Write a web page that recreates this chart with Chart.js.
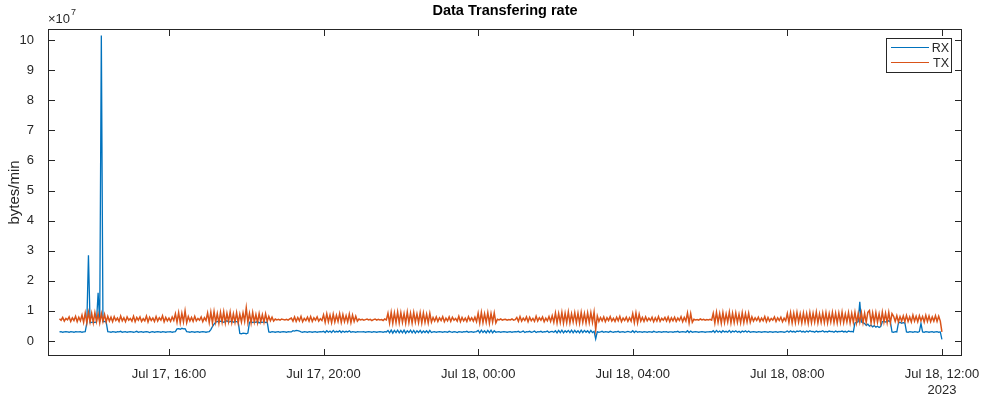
<!DOCTYPE html>
<html>
<head>
<meta charset="utf-8">
<script src="https://cdn.jsdelivr.net/npm/chart.js@4.4.0/dist/chart.umd.min.js"></script>
<style>
  html, body { margin: 0; padding: 0; background: #fff; }
</style>
</head>
<body>
<canvas id="rateChart" width="981" height="396"></canvas>
<script>
// one sample every 2.5 min, first at Jul 17 13:10 (hours counted from Jul 17 00:00)
const startHour = 13 + 10 / 60;
const stepHours = 2.5 / 60;

// bytes/min, in millions - one row per hour
const rxMB = [
  3.0, 3.1, 2.9, 3.0, 3.1, 3.0, 2.9, 3.1, 3.0, 2.9, 3.1, 3.0, 3.0, 3.1, 2.9, 3.0, 3.1, 6.0, 28.5, 6.1, // 13:10
  6.2, 6.3, 6.1, 6.4, 16.0, 6.3, 101.5, 6.4, 6.5, 6.3, 3.1, 3.0, 2.9, 3.1, 3.0, 2.9, 3.1, 3.0, 3.2, 2.9, 3.0, 3.1, 2.9, 3.0, // 14
  3.1, 3.0, 2.9, 3.0, 3.2, 2.9, 3.0, 3.1, 2.9, 3.0, 3.1, 3.0, 2.8, 3.0, 3.1, 2.9, 3.0, 3.1, 3.0, 2.9, 3.1, 3.0, 2.9, 3.0, // 15
  3.0, 3.1, 2.9, 3.0, 3.1, 4.0, 4.1, 3.9, 4.2, 4.0, 4.1, 3.1, 3.0, 2.9, 3.1, 3.0, 2.9, 3.0, 3.1, 2.9, 3.0, 3.1, 3.0, 2.9, // 16
  3.0, 3.1, 3.8, 4.8, 5.6, 6.2, 6.5, 6.3, 6.6, 6.4, 6.2, 6.5, 6.7, 6.3, 6.4, 6.6, 6.2, 6.5, 6.4, 6.3, 2.5, 2.4, 2.6, 2.5, // 17
  2.4, 2.6, 6.2, 6.4, 6.1, 6.3, 6.2, 6.5, 6.0, 6.3, 6.2, 6.4, 6.1, 6.3, 3.0, 2.9, 3.1, 3.0, 2.9, 3.0, 3.1, 2.9, 3.0, 3.1, // 18
  3.0, 2.9, 3.1, 3.0, 3.0, 3.4, 3.3, 3.5, 3.4, 3.3, 3.0, 2.9, 3.1, 3.0, 2.9, 3.1, 3.0, 2.9, 3.0, 3.1, 2.9, 3.0, 3.1, 3.0, // 19
  3.2, 2.8, 3.4, 2.9, 3.3, 2.8, 3.5, 2.9, 3.2, 3.0, 3.4, 2.8, 3.3, 2.9, 3.2, 3.0, 3.4, 2.9, 3.1, 3.0, 2.9, 3.1, 3.0, 3.0, // 20
  3.0, 3.1, 2.9, 3.0, 3.1, 3.0, 2.9, 3.1, 3.0, 2.9, 3.0, 3.1, 3.0, 2.9, 3.1, 3.0, 3.5, 2.7, 3.6, 2.6, 3.5, 2.8, 3.6, 2.7, // 21
  3.5, 2.7, 3.6, 2.6, 3.4, 2.8, 3.6, 2.7, 3.5, 2.6, 3.4, 2.8, 3.5, 2.7, 3.3, 2.8, 3.4, 2.7, 3.5, 2.8, 3.0, 3.1, 2.9, 3.0, // 22
  3.1, 3.0, 2.9, 3.1, 3.0, 2.9, 3.2, 3.0, 2.9, 3.1, 3.0, 2.8, 3.1, 3.0, 2.9, 3.1, 3.0, 3.2, 2.9, 3.0, 3.1, 2.9, 3.0, 3.1, // 23
  3.5, 2.7, 3.6, 2.8, 3.4, 2.7, 3.5, 2.8, 3.6, 2.7, 3.4, 2.9, 3.0, 3.1, 2.9, 3.0, 3.1, 3.0, 2.9, 3.0, 3.1, 2.9, 3.0, 3.1, // 00
  3.0, 3.2, 2.9, 3.0, 3.3, 2.8, 3.1, 3.0, 3.2, 2.9, 3.0, 3.3, 2.8, 3.1, 3.0, 3.2, 2.9, 3.1, 3.0, 3.3, 2.8, 3.1, 3.2, 2.9, // 01
  3.4, 2.7, 3.5, 2.8, 3.6, 2.7, 3.4, 2.9, 3.5, 2.8, 3.6, 2.7, 3.5, 2.8, 3.4, 2.7, 3.6, 2.8, 3.5, 2.9, 3.4, 2.7, 3.5, 2.8, // 02
  3.2, 0.7, 3.1, 2.9, 3.0, 3.2, 2.9, 3.1, 3.0, 2.9, 3.2, 3.0, 2.9, 3.1, 3.0, 3.2, 2.9, 3.0, 3.1, 2.9, 3.0, 3.2, 3.0, 2.9, // 03
  3.4, 2.8, 3.3, 2.9, 3.1, 3.0, 2.9, 3.1, 3.0, 2.9, 3.1, 3.0, 2.9, 3.2, 3.0, 2.9, 3.1, 3.0, 2.9, 3.1, 3.0, 3.1, 2.9, 3.0, // 04
  3.0, 2.9, 3.1, 3.0, 3.2, 2.9, 3.0, 3.1, 3.0, 2.9, 3.4, 2.8, 3.3, 2.9, 3.0, 3.1, 3.0, 2.9, 3.0, 3.1, 3.0, 2.9, 3.0, 3.0, // 05
  3.1, 3.0, 3.4, 2.8, 3.5, 2.9, 3.3, 2.8, 3.4, 3.0, 3.2, 2.9, 3.5, 2.8, 3.3, 3.0, 3.4, 2.9, 3.2, 2.8, 3.3, 3.0, 3.4, 2.9, // 06
  3.3, 2.9, 3.0, 3.1, 3.0, 2.9, 3.1, 3.0, 2.9, 3.0, 3.1, 3.0, 2.9, 3.1, 3.0, 2.9, 3.0, 3.1, 2.9, 3.0, 3.1, 3.0, 2.9, 3.0, // 07
  3.3, 2.9, 3.4, 3.0, 3.2, 2.9, 3.3, 3.1, 3.4, 3.0, 3.2, 2.9, 3.3, 3.0, 3.4, 3.1, 3.2, 2.9, 3.3, 3.0, 3.2, 3.1, 3.4, 3.0, // 08
  3.2, 3.0, 3.3, 3.1, 3.2, 2.9, 3.3, 3.0, 3.2, 3.1, 3.3, 3.0, 3.2, 2.9, 3.3, 3.1, 3.2, 3.0, 6.0, 6.2, 6.4, 13.0, 6.3, 6.1, // 09
  5.8, 5.2, 5.6, 4.9, 5.3, 4.7, 5.1, 4.6, 4.9, 4.5, 4.8, 6.4, 6.6, 6.3, 6.5, 6.7, 6.4, 3.0, 2.9, 3.1, 3.0, 6.0, 6.2, 5.9, // 10
  6.1, 6.0, 3.0, 2.9, 3.1, 3.0, 2.9, 3.1, 3.0, 2.9, 3.1, 5.8, 3.0, 2.9, 3.1, 3.0, 2.9, 3.0, 3.1, 2.9, 3.0, 3.1, 2.9, 3.0, // 11
  0.5 // 12:00
];

const txMB = [
  7.4, 6.9, 7.8, 6.6, 7.5, 7.0, 8.0, 6.5, 7.7, 6.8, 8.2, 6.4, 7.9, 6.7, 8.6, 6.2, 9.3, 6.0, 9.5, 6.3, // 13:10
  9.2, 6.1, 9.4, 6.4, 8.9, 6.0, 9.1, 6.5, 8.8, 6.3, 8.2, 6.6, 7.9, 6.4, 8.1, 6.8, 7.6, 6.5, 8.3, 6.7, 7.7, 6.4, 8.0, 6.9, // 14
  7.5, 6.6, 8.2, 6.4, 7.8, 6.9, 8.0, 6.5, 7.4, 6.7, 8.3, 6.3, 7.9, 6.8, 7.6, 6.5, 8.1, 6.6, 7.7, 6.9, 8.4, 6.4, 7.8, 6.7, // 15
  7.6, 6.5, 8.0, 6.8, 9.0, 6.2, 9.4, 6.0, 9.2, 6.3, 10.0, 6.1, 8.1, 6.6, 7.8, 6.5, 8.2, 6.7, 7.5, 6.9, 8.0, 6.4, 7.7, 6.8, // 16
  9.3, 6.1, 9.6, 6.0, 9.8, 6.2, 9.1, 5.9, 9.5, 6.3, 9.7, 6.0, 9.2, 6.4, 9.6, 6.1, 9.0, 6.2, 9.4, 6.0, 8.9, 6.3, 9.3, 6.5, // 17
  11.0, 6.2, 9.2, 6.0, 9.5, 6.3, 8.8, 6.1, 9.1, 6.4, 8.7, 6.2, 9.0, 6.5, 8.2, 6.7, 7.9, 6.6, 7.3, 7.0, 7.2, 6.9, 7.3, 7.1, // 18
  7.0, 7.2, 6.9, 7.3, 7.6, 6.6, 8.0, 6.5, 7.8, 6.7, 8.2, 6.4, 7.5, 6.8, 7.9, 6.6, 8.1, 6.5, 7.7, 6.9, 8.0, 6.6, 7.4, 6.8, // 19
  8.7, 6.2, 9.0, 6.4, 8.6, 6.1, 8.9, 6.3, 8.5, 6.5, 9.1, 6.2, 8.8, 6.4, 8.4, 6.3, 8.9, 6.1, 8.6, 6.5, 8.2, 6.6, 7.3, 7.0, // 20
  7.2, 6.9, 7.1, 7.3, 7.0, 7.2, 6.8, 7.1, 7.3, 6.9, 7.2, 7.0, 7.1, 6.8, 7.3, 7.0, 9.2, 6.0, 9.5, 5.9, 9.3, 6.1, 9.6, 6.0, // 21
  9.4, 6.2, 9.1, 5.9, 9.6, 6.1, 9.2, 6.0, 9.5, 6.3, 9.0, 6.1, 9.4, 6.0, 9.3, 6.2, 8.9, 6.0, 9.2, 6.3, 7.8, 6.6, 8.0, 6.5, // 22
  7.7, 6.8, 8.1, 6.4, 7.6, 6.7, 8.0, 6.5, 7.9, 6.9, 7.5, 6.6, 8.2, 6.4, 7.8, 6.7, 7.6, 6.5, 8.1, 6.8, 7.7, 6.6, 7.9, 6.4, // 23
  9.2, 6.0, 9.5, 6.1, 9.0, 6.2, 9.4, 5.9, 9.1, 6.3, 9.3, 6.0, 7.2, 7.0, 7.3, 6.9, 7.1, 7.2, 6.9, 7.1, 7.0, 7.3, 6.9, 7.1, // 00
  7.8, 6.5, 8.1, 6.6, 7.6, 6.8, 8.0, 6.4, 7.9, 6.7, 7.5, 6.5, 8.2, 6.6, 7.7, 6.9, 8.0, 6.4, 7.6, 6.7, 8.1, 6.5, 8.4, 6.2, // 01
  9.3, 6.0, 9.1, 6.2, 9.5, 5.9, 9.2, 6.1, 9.6, 6.0, 9.0, 6.3, 9.4, 6.1, 9.2, 5.9, 9.5, 6.2, 9.1, 6.0, 9.3, 6.1, 9.4, 6.2, // 02
  9.6, 3.8, 8.3, 6.5, 7.8, 6.7, 8.0, 6.4, 7.7, 6.8, 8.1, 6.6, 7.5, 6.5, 7.9, 6.7, 8.2, 6.4, 7.6, 6.8, 7.9, 6.5, 7.7, 6.6, // 03
  9.1, 6.1, 9.3, 6.0, 8.9, 6.6, 7.8, 6.5, 8.0, 6.7, 7.6, 6.8, 7.9, 6.4, 7.7, 6.6, 8.1, 6.5, 7.5, 6.9, 7.8, 6.6, 8.0, 6.4, // 04
  7.7, 6.7, 7.9, 6.5, 7.6, 6.8, 8.1, 6.4, 7.8, 6.6, 9.3, 6.0, 9.1, 6.2, 7.2, 7.0, 7.1, 6.9, 7.3, 7.0, 7.2, 6.9, 7.1, 7.0, // 05
  7.2, 6.9, 9.2, 6.0, 9.5, 6.2, 9.1, 5.9, 9.4, 6.1, 9.0, 6.3, 9.6, 6.0, 9.2, 6.1, 9.3, 6.2, 8.9, 6.0, 9.4, 6.1, 9.1, 6.3, // 06
  9.2, 6.2, 8.0, 6.6, 7.7, 6.8, 7.9, 6.5, 7.6, 6.7, 8.1, 6.4, 7.8, 6.6, 7.5, 6.9, 8.0, 6.5, 7.7, 6.8, 7.9, 6.4, 7.6, 6.7, // 07
  9.1, 6.2, 9.4, 6.0, 9.2, 6.1, 9.5, 6.3, 9.0, 6.0, 9.3, 6.2, 9.1, 5.9, 9.4, 6.1, 9.2, 6.3, 9.6, 6.0, 9.0, 6.2, 9.3, 6.1, // 08
  9.4, 6.0, 9.1, 6.3, 9.5, 6.1, 9.2, 6.0, 9.3, 6.2, 9.6, 6.1, 9.0, 6.3, 9.4, 6.0, 9.2, 6.2, 9.5, 6.0, 9.1, 6.3, 9.4, 6.1, // 09
  9.2, 6.2, 9.5, 10.1, 6.0, 9.3, 6.1, 9.4, 6.2, 9.0, 6.0, 9.6, 6.3, 9.2, 6.1, 9.5, 6.0, 9.1, 8.2, 6.5, 8.4, 6.3, 8.1, 6.6, // 10
  8.3, 6.4, 8.5, 6.5, 8.0, 6.3, 8.6, 6.6, 8.2, 6.4, 8.4, 6.7, 8.1, 6.3, 8.5, 6.5, 8.3, 6.4, 8.0, 6.6, 8.4, 6.5, 8.2, 6.6, // 11
  3.0 // 12:00
];

const seriesNames = ['RX', 'TX'];
const seriesColors = ['#0072BD', '#D95319'];

const tickHours = [16, 20, 24, 28, 32, 36];
const tickLabels = ['Jul 17, 16:00', 'Jul 17, 20:00', 'Jul 18, 00:00', 'Jul 18, 04:00', 'Jul 18, 08:00', ['Jul 18, 12:00', '2023']];
const yTicks = [0, 1, 2, 3, 4, 5, 6, 7, 8, 9, 10]; // x 10^7

const toPoints = arr => arr.map((v, i) => ({ x: startHour + i * stepHours, y: v * 1e6 }));

const axisColor = '#262626';
const font = 'Liberation Sans, Arial, Helvetica, sans-serif';

// box, inward ticks, title, exponent, legend - MATLAB look
const matlabFrame = {
  id: 'matlabFrame',
  afterDraw(chart) {
    const { ctx, chartArea: a, scales: { x, y } } = chart;
    const tl = 7;
    ctx.save();
    ctx.strokeStyle = axisColor;
    ctx.lineWidth = 1;
    ctx.strokeRect(a.left + 0.5, a.top + 0.5, a.right - a.left - 1, a.bottom - a.top - 1);
    ctx.beginPath();
    x.ticks.forEach(t => {
      const px = Math.round(x.getPixelForValue(t.value)) + 0.5;
      ctx.moveTo(px, a.bottom); ctx.lineTo(px, a.bottom - tl);
      ctx.moveTo(px, a.top); ctx.lineTo(px, a.top + tl);
    });
    y.ticks.forEach(t => {
      const py = Math.round(y.getPixelForValue(t.value)) + 0.5;
      ctx.moveTo(a.left, py); ctx.lineTo(a.left + tl, py);
      ctx.moveTo(a.right, py); ctx.lineTo(a.right - tl, py);
    });
    ctx.stroke();

    // title
    ctx.fillStyle = '#000';
    ctx.font = 'bold 14.5px ' + font;
    ctx.textAlign = 'center';
    ctx.textBaseline = 'middle';
    ctx.fillText('Data Transfering rate', (a.left + a.right) / 2, 11);

    // exponent label
    ctx.fillStyle = axisColor;
    ctx.textAlign = 'left';
    ctx.font = '13px ' + font;
    ctx.fillText('\u00d710', a.left, 19);
    ctx.font = '9px ' + font;
    ctx.fillText('7', a.left + 23, 13);

    // legend
    const lx = a.right - 76, ly = a.top + 9, lw = 65, lh = 34;
    ctx.fillStyle = '#fff';
    ctx.fillRect(lx, ly, lw, lh);
    ctx.strokeStyle = axisColor;
    ctx.strokeRect(lx + 0.5, ly + 0.5, lw, lh);
    ctx.font = '12.5px ' + font;
    ctx.textAlign = 'right';
    chart.data.datasets.forEach((ds, i) => {
      const yy = ly + 9.5 + i * 15;
      ctx.strokeStyle = ds.borderColor;
      ctx.lineWidth = 1;
      ctx.beginPath();
      ctx.moveTo(lx + 5, yy); ctx.lineTo(lx + 43, yy);
      ctx.stroke();
      ctx.fillStyle = axisColor;
      ctx.fillText(ds.label, lx + lw - 2, yy + 1);
    });
    ctx.restore();
  }
};

new Chart(document.getElementById('rateChart'), {
  type: 'line',
  data: {
    datasets: [
      { label: seriesNames[0], data: toPoints(rxMB), borderColor: seriesColors[0], borderWidth: 1.3, order: 1 },
      { label: seriesNames[1], data: toPoints(txMB), borderColor: seriesColors[1], borderWidth: 1.5, order: 0 }
    ]
  },
  options: {
    responsive: false,
    animation: false,
    layout: { padding: { top: 29, right: 19, left: 0, bottom: 0 } },
    elements: {
      line: { tension: 0 },
      point: { radius: 0 }
    },
    plugins: {
      legend: { display: false },
      title: { display: false },
      tooltip: { enabled: false }
    },
    scales: {
      x: {
        type: 'linear',
        min: 12.87,
        max: 36.52,
        grid: { display: false },
        border: { display: false },
        afterBuildTicks: s => { s.ticks = tickHours.map(v => ({ value: v })); },
        afterFit: s => { s.height = 40; s.paddingLeft = 0; s.paddingRight = 0; },
        ticks: {
          color: axisColor,
          font: { family: font, size: 13 },
          padding: 3,
          maxRotation: 0,
          callback: v => tickLabels[tickHours.indexOf(v)]
        }
      },
      y: {
        min: -0.5e7,
        max: 10.37e7,
        grid: { display: false },
        border: { display: false },
        afterBuildTicks: s => { s.ticks = yTicks.map(v => ({ value: v * 1e7 })); },
        afterFit: s => { s.width = 48; s.paddingTop = 0; s.paddingBottom = 0; },
        title: {
          display: true,
          text: 'bytes/min',
          color: axisColor,
          font: { family: font, size: 15 },
          padding: { top: 6, bottom: 0 }
        },
        ticks: {
          color: axisColor,
          font: { family: font, size: 13 },
          padding: 6,
          callback: v => String(Math.round(v / 1e7))
        }
      }
    }
  },
  plugins: [matlabFrame]
});
</script>
</body>
</html>
